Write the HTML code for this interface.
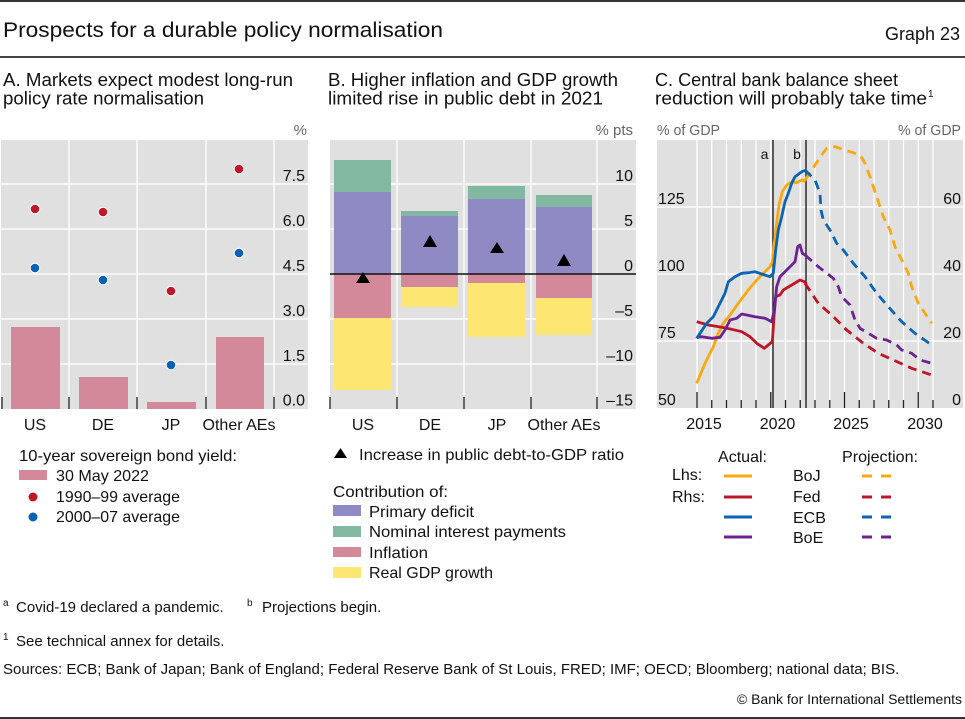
<!DOCTYPE html>
<html><head><meta charset="utf-8"><style>
html,body{margin:0;padding:0;background:#fff;}
svg{display:block;}
text{font-family:"Liberation Sans",Arial,sans-serif;fill:#111;}
.g{fill:#666;}
</style></head><body>
<svg width="965" height="719" viewBox="0 0 965 719" xmlns="http://www.w3.org/2000/svg">
<rect x="0" y="0" width="965" height="719" fill="#fff"/>
<!-- header -->
<rect x="0" y="0" width="965" height="2" fill="#333"/>
<text x="3" y="37" font-size="21" textLength="440" lengthAdjust="spacingAndGlyphs">Prospects for a durable policy normalisation</text>
<text x="960" y="40" font-size="18" text-anchor="end">Graph 23</text>
<rect x="0" y="56" width="965" height="2" fill="#444"/>

<!-- panel titles -->
<text x="3" y="86" font-size="18" textLength="290" lengthAdjust="spacingAndGlyphs">A. Markets expect modest long-run</text>
<text x="3" y="104.5" font-size="18" textLength="201" lengthAdjust="spacingAndGlyphs">policy rate normalisation</text>
<text x="328" y="86" font-size="18" textLength="290" lengthAdjust="spacingAndGlyphs">B. Higher inflation and GDP growth</text>
<text x="328" y="104.5" font-size="18" textLength="275" lengthAdjust="spacingAndGlyphs">limited rise in public debt in 2021</text>
<text x="655" y="86" font-size="18" textLength="243" lengthAdjust="spacingAndGlyphs">C. Central bank balance sheet</text>
<text x="655" y="104.5" font-size="18" textLength="272" lengthAdjust="spacingAndGlyphs">reduction will probably take time</text>
<text x="928" y="97" font-size="10">1</text>

<!-- ================= PANEL A ================= -->
<rect x="1" y="140" width="307" height="269" fill="#e0e0e0"/>
<g stroke="#fff" stroke-width="1.3">
<line x1="1" y1="184" x2="308" y2="184"/>
<line x1="1" y1="229" x2="308" y2="229"/>
<line x1="1" y1="274" x2="308" y2="274"/>
<line x1="1" y1="319" x2="308" y2="319"/>
<line x1="1" y1="364" x2="308" y2="364"/>
<line x1="69" y1="140" x2="69" y2="409"/>
<line x1="137" y1="140" x2="137" y2="409"/>
<line x1="206" y1="140" x2="206" y2="409"/>
<line x1="274" y1="140" x2="274" y2="409"/>
</g>
<g fill="#d4899b">
<rect x="11" y="327" width="49" height="82"/>
<rect x="79" y="377" width="49" height="32"/>
<rect x="147" y="402" width="49" height="7"/>
<rect x="216" y="337" width="48" height="72"/>
</g>
<g stroke="#fff" stroke-width="1">
<circle cx="35" cy="209" r="4.8" fill="#c0182a"/>
<circle cx="35" cy="268" r="4.8" fill="#0b62b4"/>
<circle cx="103" cy="212" r="4.8" fill="#c0182a"/>
<circle cx="103" cy="280" r="4.8" fill="#0b62b4"/>
<circle cx="171" cy="291" r="4.8" fill="#c0182a"/>
<circle cx="171" cy="365" r="4.8" fill="#0b62b4"/>
<circle cx="239" cy="169" r="4.8" fill="#c0182a"/>
<circle cx="239" cy="253" r="4.8" fill="#0b62b4"/>
</g>
<g stroke="#222" stroke-width="1.3">
<line x1="2" y1="397" x2="2" y2="409"/>
<line x1="69" y1="397" x2="69" y2="409"/>
<line x1="137" y1="397" x2="137" y2="409"/>
<line x1="206" y1="397" x2="206" y2="409"/>
<line x1="274" y1="397" x2="274" y2="409"/>
</g>
<g font-size="16" text-anchor="end">
<text x="305" y="181">7.5</text>
<text x="305" y="226">6.0</text>
<text x="305" y="271">4.5</text>
<text x="305" y="316">3.0</text>
<text x="305" y="361">1.5</text>
<text x="305" y="405.5">0.0</text>
</g>
<text x="307" y="135" font-size="15" text-anchor="end" class="g">%</text>
<g font-size="16" text-anchor="middle">
<text x="35" y="430">US</text>
<text x="103" y="430">DE</text>
<text x="171" y="430">JP</text>
<text x="239" y="430">Other AEs</text>
</g>
<!-- legend A -->
<text x="19" y="461" font-size="16" textLength="218" lengthAdjust="spacingAndGlyphs">10-year sovereign bond yield:</text>
<rect x="19" y="470" width="28" height="10" fill="#d4899b"/>
<text x="56" y="481" font-size="16" textLength="93" lengthAdjust="spacingAndGlyphs">30 May 2022</text>
<circle cx="33" cy="497" r="4.5" fill="#c0182a"/>
<text x="56" y="502" font-size="16" textLength="124" lengthAdjust="spacingAndGlyphs">1990–99 average</text>
<circle cx="33" cy="517" r="4.5" fill="#0b62b4"/>
<text x="56" y="522" font-size="16" textLength="124" lengthAdjust="spacingAndGlyphs">2000–07 average</text>

<!-- ================= PANEL B ================= -->
<rect x="330" y="140" width="306" height="269" fill="#e0e0e0"/>
<g stroke="#fff" stroke-width="1.3">
<line x1="330" y1="184" x2="636" y2="184"/>
<line x1="330" y1="229" x2="636" y2="229"/>
<line x1="330" y1="319" x2="636" y2="319"/>
<line x1="330" y1="364" x2="636" y2="364"/>
<line x1="397" y1="140" x2="397" y2="409"/>
<line x1="464" y1="140" x2="464" y2="409"/>
<line x1="531" y1="140" x2="531" y2="409"/>
<line x1="597" y1="140" x2="597" y2="409"/>
</g>
<!-- US -->
<rect x="334" y="160" width="57" height="32" fill="#82b8a2"/>
<rect x="334" y="192" width="57" height="82" fill="#8f89c4"/>
<rect x="334" y="274" width="57" height="44" fill="#d4899b"/>
<rect x="334" y="318" width="57" height="72" fill="#fde772"/>
<!-- DE -->
<rect x="401" y="211" width="57" height="5" fill="#82b8a2"/>
<rect x="401" y="216" width="57" height="58" fill="#8f89c4"/>
<rect x="401" y="274" width="57" height="13" fill="#d4899b"/>
<rect x="401" y="287" width="57" height="20" fill="#fde772"/>
<!-- JP -->
<rect x="468" y="186" width="57" height="13" fill="#82b8a2"/>
<rect x="468" y="199" width="57" height="75" fill="#8f89c4"/>
<rect x="468" y="274" width="57" height="9" fill="#d4899b"/>
<rect x="468" y="283" width="57" height="54" fill="#fde772"/>
<!-- Other -->
<rect x="536" y="195" width="56" height="12" fill="#82b8a2"/>
<rect x="536" y="207" width="56" height="67" fill="#8f89c4"/>
<rect x="536" y="274" width="56" height="24" fill="#d4899b"/>
<rect x="536" y="298" width="56" height="37" fill="#fde772"/>
<line x1="330" y1="274" x2="636" y2="274" stroke="#111" stroke-width="1.5"/>
<g fill="#000">
<polygon points="356,283 370,283 363,272"/>
<polygon points="423,247 437,247 430,235"/>
<polygon points="490,253 504,253 497,242"/>
<polygon points="557,266 571,266 564,254"/>
</g>
<g stroke="#222" stroke-width="1.3">
<line x1="330" y1="397" x2="330" y2="409"/>
<line x1="397" y1="397" x2="397" y2="409"/>
<line x1="464" y1="397" x2="464" y2="409"/>
<line x1="531" y1="397" x2="531" y2="409"/>
<line x1="597" y1="397" x2="597" y2="409"/>
</g>
<g font-size="16" text-anchor="end">
<text x="633" y="181">10</text>
<text x="633" y="226">5</text>
<text x="633" y="271">0</text>
<text x="633" y="316">–5</text>
<text x="633" y="361">–10</text>
<text x="633" y="405.5">–15</text>
</g>
<text x="633" y="135" font-size="15" text-anchor="end" class="g">% pts</text>
<g font-size="16" text-anchor="middle">
<text x="363" y="430">US</text>
<text x="430" y="430">DE</text>
<text x="497" y="430">JP</text>
<text x="564" y="430">Other AEs</text>
</g>
<!-- legend B -->
<polygon points="334,458 347,458 340.5,448" fill="#000"/>
<text x="359" y="460" font-size="16" textLength="265" lengthAdjust="spacingAndGlyphs">Increase in public debt-to-GDP ratio</text>
<text x="333" y="497" font-size="16" textLength="115" lengthAdjust="spacingAndGlyphs">Contribution of:</text>
<rect x="333" y="505" width="28" height="11" fill="#8f89c4"/>
<text x="369" y="517" font-size="16" textLength="105" lengthAdjust="spacingAndGlyphs">Primary deficit</text>
<rect x="333" y="526" width="28" height="11" fill="#82b8a2"/>
<text x="369" y="537" font-size="16" textLength="197" lengthAdjust="spacingAndGlyphs">Nominal interest payments</text>
<rect x="333" y="547" width="28" height="10" fill="#d4899b"/>
<text x="369" y="558" font-size="16" textLength="59" lengthAdjust="spacingAndGlyphs">Inflation</text>
<rect x="333" y="567" width="28" height="11" fill="#fde772"/>
<text x="369" y="578" font-size="16" textLength="124" lengthAdjust="spacingAndGlyphs">Real GDP growth</text>

<!-- ================= PANEL C ================= -->
<rect x="657" y="140" width="306" height="268" fill="#e0e0e0"/>
<g stroke="#fff" stroke-width="1.3">
<line x1="657" y1="207" x2="963" y2="207"/>
<line x1="657" y1="274" x2="963" y2="274"/>
<line x1="657" y1="341" x2="963" y2="341"/>
<line x1="697" y1="140" x2="697" y2="408"/>
<line x1="711.75" y1="140" x2="711.75" y2="408"/>
<line x1="726.5" y1="140" x2="726.5" y2="408"/>
<line x1="741.25" y1="140" x2="741.25" y2="408"/>
<line x1="756" y1="140" x2="756" y2="408"/>
<line x1="770.75" y1="140" x2="770.75" y2="408"/>
<line x1="785.5" y1="140" x2="785.5" y2="408"/>
<line x1="800.25" y1="140" x2="800.25" y2="408"/>
<line x1="815" y1="140" x2="815" y2="408"/>
<line x1="829.75" y1="140" x2="829.75" y2="408"/>
<line x1="844.5" y1="140" x2="844.5" y2="408"/>
<line x1="859.25" y1="140" x2="859.25" y2="408"/>
<line x1="874" y1="140" x2="874" y2="408"/>
<line x1="888.75" y1="140" x2="888.75" y2="408"/>
<line x1="903.5" y1="140" x2="903.5" y2="408"/>
<line x1="918.25" y1="140" x2="918.25" y2="408"/>
<line x1="933" y1="140" x2="933" y2="408"/>
</g>
<g stroke="#222" stroke-width="1.4">
<line x1="773" y1="140" x2="773" y2="408"/>
<line x1="806" y1="140" x2="806" y2="408"/>
</g>
<text x="764.5" y="159" font-size="14" text-anchor="middle">a</text>
<text x="797" y="159" font-size="14" text-anchor="middle">b</text>
<g fill="none" stroke-width="2.8" stroke-linejoin="round" stroke-linecap="butt">
<polyline stroke="#f9a90f" points="696.7,383.3 705,363.3 713.3,346.7 718.3,333.3 723.3,323.3 730,315 738.3,303.3 748.3,290 758.3,278.3 770,266.7 772.3,261.7 774.3,243.3 776.7,223.3 779,205 782.3,191.7 786.7,185 791.7,181.7 796.7,182.7 801.7,180 805.7,181.7"/>
<polyline stroke="#f9a90f" stroke-dasharray="9 6" points="805,180 811.7,170 821.7,155 826.7,148.3 835,146.7 845,150 860,155 865,163.3 870,176.7 876.7,196.7 883.3,216.7 890,230 895,246.7 901.7,260 908.3,273.3 911.7,286.7 918.3,303.3 925,313.3 931.7,323.3"/>
<polyline stroke="#bf1528" points="696.7,321.7 708.3,325 721.7,327.3 731.7,329.3 741.7,331.7 750,336.7 756.7,343.3 764.3,348.3 768.3,345 772.3,341.7 774,316.7 775.7,296.7 780,295 783.3,290 791.7,285 800,280 804.3,281.7 806.7,284"/>
<polyline stroke="#bf1528" stroke-dasharray="9 6" points="805,283.3 818.3,303.3 831.7,315 846.7,330 863.3,343.3 878.3,353.3 893.3,360 911.7,368.3 931.7,375"/>
<polyline stroke="#6e2290" points="696.7,337.3 701.7,336.7 711.7,338.3 720,337.3 725,330 730,320 736.7,318.3 741.7,314 746.7,315 755,316.7 765,318.3 771.7,321.7 774.3,310 776.7,286.7 780,276.7 786.7,270 791.7,265 795,261.7 797.7,246.7 800,245 802.3,253.3 806.7,256"/>
<polyline stroke="#6e2290" stroke-dasharray="9 6" points="805,255 818.3,266.7 833.3,278.3 838.3,286.7 841.7,296.7 850,305 855,320 860,328.3 868.3,333.3 876.7,338.3 886.7,340 896.7,345 901.7,350 911.7,353.3 920,360 931.7,363.3"/>
<polyline stroke="#0b64b5" points="696.7,338.3 700,333.3 706.7,323.3 713.3,316.7 720,303.3 725,293.3 728.3,281.7 735,276.7 741.7,273.3 748.3,272.7 755,271.7 761.7,274 770,276.7 773.3,273.3 775.7,250 778.3,230 781.7,216.7 785,201.7 788.3,193.3 791.7,183.3 795,176.7 801.7,171.7 806.7,170"/>
<polyline stroke="#0b64b5" stroke-dasharray="9 6" points="805,170 815,180 820,193.3 821,210 823.3,220 830,230 836.7,243.3 843.3,250 853.3,263.3 865,276.7 876.7,293.3 888.3,306.7 901.7,321.7 915,333.3 931.7,345"/>
</g>
<g stroke="#222" stroke-width="1.3">
<line x1="697" y1="392" x2="697" y2="408"/>
<line x1="711.75" y1="400" x2="711.75" y2="408"/>
<line x1="726.5" y1="400" x2="726.5" y2="408"/>
<line x1="741.25" y1="400" x2="741.25" y2="408"/>
<line x1="756" y1="400" x2="756" y2="408"/>
<line x1="770.75" y1="392" x2="770.75" y2="408"/>
<line x1="785.5" y1="400" x2="785.5" y2="408"/>
<line x1="800.25" y1="400" x2="800.25" y2="408"/>
<line x1="815" y1="400" x2="815" y2="408"/>
<line x1="829.75" y1="400" x2="829.75" y2="408"/>
<line x1="844.5" y1="392" x2="844.5" y2="408"/>
<line x1="859.25" y1="400" x2="859.25" y2="408"/>
<line x1="874" y1="400" x2="874" y2="408"/>
<line x1="888.75" y1="400" x2="888.75" y2="408"/>
<line x1="903.5" y1="400" x2="903.5" y2="408"/>
<line x1="918.25" y1="392" x2="918.25" y2="408"/>
<line x1="933" y1="400" x2="933" y2="408"/>
</g>
<g font-size="16">
<text x="658" y="204">125</text>
<text x="658" y="271">100</text>
<text x="658" y="338">75</text>
<text x="658" y="405">50</text>
</g>
<g font-size="16" text-anchor="end">
<text x="961" y="204">60</text>
<text x="961" y="271">40</text>
<text x="961" y="338">20</text>
<text x="961" y="405">0</text>
</g>
<text x="657" y="135" font-size="15" class="g" textLength="63" lengthAdjust="spacingAndGlyphs">% of GDP</text>
<text x="898" y="135" font-size="15" class="g" textLength="63" lengthAdjust="spacingAndGlyphs">% of GDP</text>
<g font-size="16" text-anchor="middle">
<text x="704" y="429">2015</text>
<text x="777.5" y="429">2020</text>
<text x="851" y="429">2025</text>
<text x="925" y="429">2030</text>
</g>
<!-- legend C -->
<text x="718" y="462" font-size="16" textLength="49" lengthAdjust="spacingAndGlyphs">Actual:</text>
<text x="842" y="462" font-size="16" textLength="76" lengthAdjust="spacingAndGlyphs">Projection:</text>
<text x="672" y="480" font-size="16">Lhs:</text>
<text x="672" y="502" font-size="16">Rhs:</text>
<g stroke-width="3">
<line x1="724" y1="476" x2="752" y2="476" stroke="#f9a90f"/>
<line x1="724" y1="497" x2="752" y2="497" stroke="#bf1528"/>
<line x1="724" y1="517" x2="752" y2="517" stroke="#0b64b5"/>
<line x1="724" y1="537" x2="752" y2="537" stroke="#6e2290"/>
<line x1="862" y1="476" x2="872" y2="476" stroke="#f9a90f"/>
<line x1="881" y1="476" x2="891" y2="476" stroke="#f9a90f"/>
<line x1="862" y1="497" x2="872" y2="497" stroke="#bf1528"/>
<line x1="881" y1="497" x2="891" y2="497" stroke="#bf1528"/>
<line x1="862" y1="517" x2="872" y2="517" stroke="#0b64b5"/>
<line x1="881" y1="517" x2="891" y2="517" stroke="#0b64b5"/>
<line x1="862" y1="537" x2="872" y2="537" stroke="#6e2290"/>
<line x1="881" y1="537" x2="891" y2="537" stroke="#6e2290"/>
</g>
<g font-size="16">
<text x="793" y="481">BoJ</text>
<text x="793" y="502">Fed</text>
<text x="793" y="523">ECB</text>
<text x="793" y="543">BoE</text>
</g>

<!-- footnotes -->
<text x="3" y="606" font-size="10">a</text>
<text x="16" y="612" font-size="15">Covid-19 declared a pandemic.</text>
<text x="247" y="606" font-size="10">b</text>
<text x="262" y="612" font-size="15">Projections begin.</text>
<text x="3" y="640" font-size="10">1</text>
<text x="16" y="646" font-size="15">See technical annex for details.</text>
<text x="3" y="674" font-size="15">Sources: ECB; Bank of Japan; Bank of England; Federal Reserve Bank of St Louis, FRED; IMF; OECD; Bloomberg; national data; BIS.</text>
<text x="962" y="704" font-size="14" text-anchor="end">© Bank for International Settlements</text>
<rect x="0" y="717" width="965" height="2" fill="#333"/>
</svg>
</body></html>
